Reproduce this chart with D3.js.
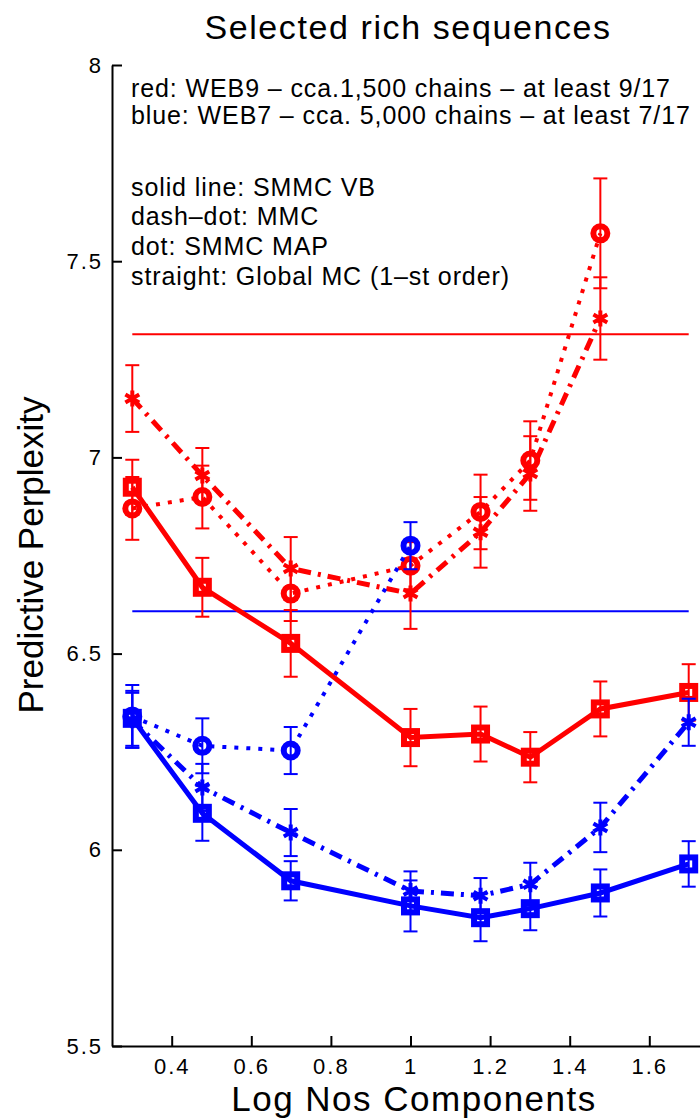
<!DOCTYPE html>
<html>
<head>
<meta charset="utf-8">
<script src="https://cdn.jsdelivr.net/npm/d3@7"></script>
<style>
  body { margin: 0; background: #fff; }
  svg { display: block; font-family: "Liberation Sans", Arial, Helvetica, sans-serif; }
</style>
</head>
<body>
<svg id="chart"></svg>
<script>
// log10 of number of components
const logComponents = [0.301, 0.477, 0.699, 1.0, 1.176, 1.301, 1.477, 1.699];

// red: WEB9
const redVB      = [6.924, 6.669, 6.526, 6.286, 6.295, 6.236, 6.359, 6.401];
const redVBErr   = [0.07, 0.075, 0.085, 0.073, 0.07, 0.064, 0.07, 0.072];
const redMMC     = [7.15, 6.954, 6.717, 6.653, 6.809, 6.959, 7.354];
const redMMCErr  = [0.085, 0.07, 0.08, 0.09, 0.09, 0.095, 0.105];
const redMAP     = [6.87, 6.899, 6.653, 6.724, 6.861, 6.992, 7.571];
const redMAPErr  = [0.08, 0.08, 0.07, 0.06, 0.095, 0.1, 0.14];
const redGlobal  = 7.314;

// blue: WEB7
const blueVB     = [6.335, 6.093, 5.921, 5.857, 5.827, 5.85, 5.89, 5.964];
const blueVBErr  = [0.07, 0.07, 0.05, 0.065, 0.06, 0.055, 0.06, 0.058];
const blueMMC    = [6.33, 6.159, 6.044, 5.895, 5.883, 5.912, 6.057, 6.325];
const blueMMCErr = [0.07, 0.06, 0.06, 0.05, 0.045, 0.055, 0.063, 0.06];
const blueMAP    = [6.34, 6.265, 6.253, 6.775];
const blueMAPErr = [0.08, 0.07, 0.06, 0.06];
const blueGlobal = 6.608;

const xTicks = [0.4, 0.6, 0.8, 1, 1.2, 1.4, 1.6];
const yTicks = [5.5, 6, 6.5, 7, 7.5, 8];

const notes = [
    'red: WEB9 \u2013 cca.1,500 chains \u2013 at least 9/17',
    'blue: WEB7 \u2013 cca. 5,000 chains \u2013 at least 7/17',
    'solid line: SMMC VB',
    'dash\u2013dot: MMC',
    'dot: SMMC MAP',
    'straight: Global MC (1\u2013st order)'
];
const noteBaselines = [97, 124, 196, 225, 255, 285];

const RED = '#ff0000', BLUE = '#0000ff';

const series = [
    {values: redMMC,  err: redMMCErr,  color: RED,  style: 'dashdot', marker: 'star'},
    {values: redMAP,  err: redMAPErr,  color: RED,  style: 'dot',     marker: 'circle'},
    {values: redVB,   err: redVBErr,   color: RED,  style: 'solid',   marker: 'square'},
    {values: blueMMC, err: blueMMCErr, color: BLUE, style: 'dashdot', marker: 'star'},
    {values: blueMAP, err: blueMAPErr, color: BLUE, style: 'dot',     marker: 'circle'},
    {values: blueVB,  err: blueVBErr,  color: BLUE, style: 'solid',   marker: 'square'}
];

const width = 700, height = 1120;
const margin = {top: 65, right: -9, bottom: 74, left: 112};

const svg = d3.select('#chart')
    .attr('width', width)
    .attr('height', height);

const xscale = d3.scaleLinear()
    .domain([0.25, 1.75])
    .range([margin.left, width - margin.right]);
const yscale = d3.scaleLinear()
    .domain([5.5, 8])
    .range([height - margin.bottom, margin.top]);

// global MC straight lines
[[redGlobal, RED], [blueGlobal, BLUE]].forEach(([v, c]) => {
    svg.append('line')
        .attr('x1', xscale(logComponents[0]))
        .attr('x2', xscale(logComponents[logComponents.length - 1]))
        .attr('y1', yscale(v))
        .attr('y2', yscale(v))
        .attr('stroke', c)
        .attr('stroke-width', 2);
});

const dashes = {solid: null, dashdot: '13,7,3,7', dot: '4,8'};
const widths = {solid: 5, dashdot: 5, dot: 4};

const line = d3.line()
    .x(d => xscale(d.x))
    .y(d => yscale(d.y));

series.forEach(s => {
    const pts = s.values.map((v, i) => ({x: logComponents[i], y: v, e: s.err[i]}));
    const g = svg.append('g');

    g.append('path')
        .datum(pts)
        .attr('d', line)
        .attr('fill', 'none')
        .attr('stroke', s.color)
        .attr('stroke-width', widths[s.style])
        .attr('stroke-dasharray', dashes[s.style]);

    // error bars
    const cap = 7;
    const eb = g.selectAll('g.eb')
        .data(pts)
        .enter()
        .append('g')
        .attr('stroke', s.color)
        .attr('stroke-width', 2);
    eb.append('line')
        .attr('x1', d => xscale(d.x)).attr('x2', d => xscale(d.x))
        .attr('y1', d => yscale(d.y - d.e)).attr('y2', d => yscale(d.y + d.e));
    eb.append('line')
        .attr('x1', d => xscale(d.x) - cap).attr('x2', d => xscale(d.x) + cap)
        .attr('y1', d => yscale(d.y + d.e)).attr('y2', d => yscale(d.y + d.e));
    eb.append('line')
        .attr('x1', d => xscale(d.x) - cap).attr('x2', d => xscale(d.x) + cap)
        .attr('y1', d => yscale(d.y - d.e)).attr('y2', d => yscale(d.y - d.e));

    // markers
    const mk = g.selectAll('.mk')
        .data(pts)
        .enter();
    if (s.marker === 'square') {
        mk.append('rect')
            .attr('x', d => xscale(d.x) - 6.5)
            .attr('y', d => yscale(d.y) - 6.5)
            .attr('width', 13).attr('height', 13)
            .attr('fill', 'none')
            .attr('stroke', s.color)
            .attr('stroke-width', 6);
    } else if (s.marker === 'circle') {
        mk.append('circle')
            .attr('cx', d => xscale(d.x))
            .attr('cy', d => yscale(d.y))
            .attr('r', 7)
            .attr('fill', 'none')
            .attr('stroke', s.color)
            .attr('stroke-width', 6);
    } else {
        mk.append('path')
            .attr('transform', d => `translate(${xscale(d.x)},${yscale(d.y)})`)
            .attr('d', d3.symbol(d3.symbolAsterisk, 180))
            .attr('fill', 'none')
            .attr('stroke', s.color)
            .attr('stroke-width', 4);
    }
});

// axes
const xaxis = d3.axisBottom(xscale)
    .tickValues(xTicks)
    .tickFormat(d3.format('~g'))
    .tickSize(-10)
    .tickPadding(12)
    .tickSizeOuter(0);
const xg = svg.append('g')
    .attr('transform', `translate(0, ${height - margin.bottom})`)
    .call(xaxis);

const yaxis = d3.axisLeft(yscale)
    .tickValues(yTicks)
    .tickFormat(d3.format('~g'))
    .tickSize(-10)
    .tickPadding(9)
    .tickSizeOuter(0);
const yg = svg.append('g')
    .attr('transform', `translate(${margin.left}, 0)`)
    .call(yaxis);

[xg, yg].forEach(a => {
    a.select('.domain').attr('stroke', '#000').attr('stroke-width', 2);
    a.selectAll('.tick line').attr('stroke', '#000').attr('stroke-width', 2);
    a.selectAll('.tick text')
        .attr('fill', '#000')
        .style('font-size', '22px')
        .style('letter-spacing', '2px')
        .style('font-family', '"Liberation Sans", Arial, sans-serif');
});

// notes
svg.append('g')
    .selectAll('text')
    .data(notes)
    .enter()
    .append('text')
    .attr('x', 131)
    .attr('y', (d, i) => noteBaselines[i])
    .style('font-size', '25px')
    .style('letter-spacing', '0.9px')
    .attr('fill', '#000')
    .text(d => d);

// title and labels
svg.append('text')
    .attr('x', 408)
    .attr('y', 39)
    .attr('text-anchor', 'middle')
    .style('font-size', '34px')
    .style('letter-spacing', '1.6px')
    .text('Selected rich sequences');

svg.append('text')
    .attr('x', 414)
    .attr('y', 1111)
    .attr('text-anchor', 'middle')
    .style('font-size', '35px')
    .style('letter-spacing', '1.5px')
    .text('Log Nos Components');

svg.append('text')
    .attr('transform', 'rotate(-90)')
    .attr('x', -555)
    .attr('y', 43)
    .attr('text-anchor', 'middle')
    .style('font-size', '35px')
    .text('Predictive Perplexity');
</script>
</body>
</html>
